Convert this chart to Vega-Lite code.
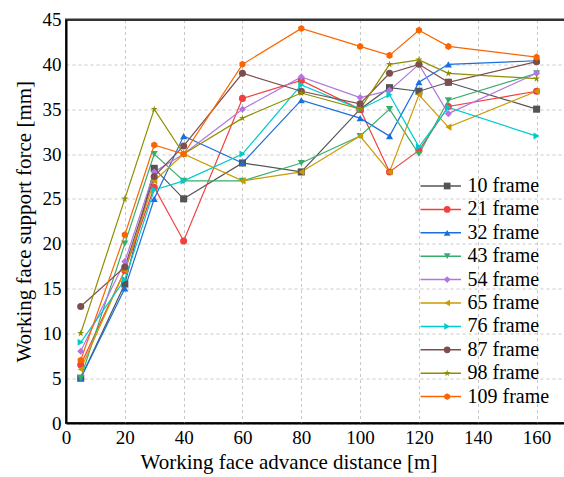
{
  "$schema": "https://vega.github.io/schema/vega-lite/v6.json",
  "width": 500,
  "height": 403.5,
  "autosize": "none",
  "padding": {"left": 66, "top": 19.5, "right": 0, "bottom": 54},
  "config": {
    "font": "Liberation Serif, Times New Roman, serif",
    "view": {"stroke": "#333333", "strokeWidth": 2},
    "axis": {
      "labelFont": "Liberation Serif, Times New Roman, serif",
      "titleFont": "Liberation Serif, Times New Roman, serif",
      "labelFontSize": 19,
      "titleFontSize": 21,
      "titleFontWeight": "normal",
      "labelColor": "#000000",
      "titleColor": "#000000",
      "domainColor": "#000000",
      "domainWidth": 2,
      "ticks": false,
      "gridDash": [3, 3],
      "gridColor": "#c8c8c8",
      "gridWidth": 1
    },
    "legend": {"padding": 0}
  },
  "data": {
    "values": [
      {"frame": "10 frame", "k": 1, "x": 5, "y": 5},
      {"frame": "10 frame", "k": 1, "x": 20, "y": 15.5},
      {"frame": "10 frame", "k": 1, "x": 30, "y": 28.4},
      {"frame": "10 frame", "k": 1, "x": 40, "y": 25},
      {"frame": "10 frame", "k": 1, "x": 60, "y": 29},
      {"frame": "10 frame", "k": 1, "x": 80, "y": 28},
      {"frame": "10 frame", "k": 1, "x": 100, "y": 35},
      {"frame": "10 frame", "k": 1, "x": 110, "y": 37.4},
      {"frame": "10 frame", "k": 1, "x": 120, "y": 37},
      {"frame": "10 frame", "k": 1, "x": 130, "y": 38},
      {"frame": "10 frame", "k": 1, "x": 160, "y": 35},
      {"frame": "21 frame", "k": 2, "x": 5, "y": 6.5},
      {"frame": "21 frame", "k": 2, "x": 20, "y": 17},
      {"frame": "21 frame", "k": 2, "x": 30, "y": 26.3},
      {"frame": "21 frame", "k": 2, "x": 40, "y": 20.3},
      {"frame": "21 frame", "k": 2, "x": 60, "y": 36.2},
      {"frame": "21 frame", "k": 2, "x": 80, "y": 38.2},
      {"frame": "21 frame", "k": 2, "x": 100, "y": 35},
      {"frame": "21 frame", "k": 2, "x": 110, "y": 28},
      {"frame": "21 frame", "k": 2, "x": 120, "y": 30.4},
      {"frame": "21 frame", "k": 2, "x": 130, "y": 35.3},
      {"frame": "21 frame", "k": 2, "x": 160, "y": 37},
      {"frame": "32 frame", "k": 3, "x": 5, "y": 5},
      {"frame": "32 frame", "k": 3, "x": 20, "y": 15},
      {"frame": "32 frame", "k": 3, "x": 30, "y": 25},
      {"frame": "32 frame", "k": 3, "x": 40, "y": 32},
      {"frame": "32 frame", "k": 3, "x": 60, "y": 29},
      {"frame": "32 frame", "k": 3, "x": 80, "y": 36},
      {"frame": "32 frame", "k": 3, "x": 100, "y": 34},
      {"frame": "32 frame", "k": 3, "x": 110, "y": 32},
      {"frame": "32 frame", "k": 3, "x": 120, "y": 38},
      {"frame": "32 frame", "k": 3, "x": 130, "y": 40},
      {"frame": "32 frame", "k": 3, "x": 160, "y": 40.4},
      {"frame": "43 frame", "k": 4, "x": 5, "y": 5},
      {"frame": "43 frame", "k": 4, "x": 20, "y": 20},
      {"frame": "43 frame", "k": 4, "x": 30, "y": 30},
      {"frame": "43 frame", "k": 4, "x": 40, "y": 27},
      {"frame": "43 frame", "k": 4, "x": 60, "y": 27},
      {"frame": "43 frame", "k": 4, "x": 80, "y": 29},
      {"frame": "43 frame", "k": 4, "x": 100, "y": 32},
      {"frame": "43 frame", "k": 4, "x": 110, "y": 35},
      {"frame": "43 frame", "k": 4, "x": 120, "y": 30},
      {"frame": "43 frame", "k": 4, "x": 130, "y": 36},
      {"frame": "43 frame", "k": 4, "x": 160, "y": 39},
      {"frame": "54 frame", "k": 5, "x": 5, "y": 8},
      {"frame": "54 frame", "k": 5, "x": 20, "y": 18},
      {"frame": "54 frame", "k": 5, "x": 30, "y": 28},
      {"frame": "54 frame", "k": 5, "x": 40, "y": 30},
      {"frame": "54 frame", "k": 5, "x": 60, "y": 35},
      {"frame": "54 frame", "k": 5, "x": 80, "y": 38.6},
      {"frame": "54 frame", "k": 5, "x": 100, "y": 36.3},
      {"frame": "54 frame", "k": 5, "x": 110, "y": 37.1},
      {"frame": "54 frame", "k": 5, "x": 120, "y": 40},
      {"frame": "54 frame", "k": 5, "x": 130, "y": 34.5},
      {"frame": "54 frame", "k": 5, "x": 160, "y": 39},
      {"frame": "65 frame", "k": 6, "x": 5, "y": 6},
      {"frame": "65 frame", "k": 6, "x": 20, "y": 17},
      {"frame": "65 frame", "k": 6, "x": 30, "y": 27},
      {"frame": "65 frame", "k": 6, "x": 40, "y": 30},
      {"frame": "65 frame", "k": 6, "x": 60, "y": 27},
      {"frame": "65 frame", "k": 6, "x": 80, "y": 28},
      {"frame": "65 frame", "k": 6, "x": 100, "y": 32},
      {"frame": "65 frame", "k": 6, "x": 110, "y": 28},
      {"frame": "65 frame", "k": 6, "x": 120, "y": 36.6},
      {"frame": "65 frame", "k": 6, "x": 130, "y": 33},
      {"frame": "65 frame", "k": 6, "x": 160, "y": 37},
      {"frame": "76 frame", "k": 7, "x": 5, "y": 9},
      {"frame": "76 frame", "k": 7, "x": 20, "y": 16},
      {"frame": "76 frame", "k": 7, "x": 30, "y": 26},
      {"frame": "76 frame", "k": 7, "x": 40, "y": 27},
      {"frame": "76 frame", "k": 7, "x": 60, "y": 30},
      {"frame": "76 frame", "k": 7, "x": 80, "y": 37.7},
      {"frame": "76 frame", "k": 7, "x": 100, "y": 35},
      {"frame": "76 frame", "k": 7, "x": 110, "y": 36.6},
      {"frame": "76 frame", "k": 7, "x": 120, "y": 30.8},
      {"frame": "76 frame", "k": 7, "x": 130, "y": 35.2},
      {"frame": "76 frame", "k": 7, "x": 160, "y": 32},
      {"frame": "87 frame", "k": 8, "x": 5, "y": 13},
      {"frame": "87 frame", "k": 8, "x": 20, "y": 17.4},
      {"frame": "87 frame", "k": 8, "x": 30, "y": 27.5},
      {"frame": "87 frame", "k": 8, "x": 40, "y": 30.9},
      {"frame": "87 frame", "k": 8, "x": 60, "y": 39},
      {"frame": "87 frame", "k": 8, "x": 80, "y": 37},
      {"frame": "87 frame", "k": 8, "x": 100, "y": 35.6},
      {"frame": "87 frame", "k": 8, "x": 110, "y": 39},
      {"frame": "87 frame", "k": 8, "x": 120, "y": 40},
      {"frame": "87 frame", "k": 8, "x": 130, "y": 38},
      {"frame": "87 frame", "k": 8, "x": 160, "y": 40.3},
      {"frame": "98 frame", "k": 9, "x": 5, "y": 10},
      {"frame": "98 frame", "k": 9, "x": 20, "y": 25},
      {"frame": "98 frame", "k": 9, "x": 30, "y": 35},
      {"frame": "98 frame", "k": 9, "x": 40, "y": 30},
      {"frame": "98 frame", "k": 9, "x": 60, "y": 34},
      {"frame": "98 frame", "k": 9, "x": 80, "y": 36.8},
      {"frame": "98 frame", "k": 9, "x": 100, "y": 35},
      {"frame": "98 frame", "k": 9, "x": 110, "y": 40},
      {"frame": "98 frame", "k": 9, "x": 120, "y": 40.5},
      {"frame": "98 frame", "k": 9, "x": 130, "y": 39},
      {"frame": "98 frame", "k": 9, "x": 160, "y": 38.4},
      {"frame": "109 frame", "k": 10, "x": 5, "y": 7},
      {"frame": "109 frame", "k": 10, "x": 20, "y": 21},
      {"frame": "109 frame", "k": 10, "x": 30, "y": 31},
      {"frame": "109 frame", "k": 10, "x": 40, "y": 30},
      {"frame": "109 frame", "k": 10, "x": 60, "y": 40},
      {"frame": "109 frame", "k": 10, "x": 80, "y": 44},
      {"frame": "109 frame", "k": 10, "x": 100, "y": 42},
      {"frame": "109 frame", "k": 10, "x": 110, "y": 41},
      {"frame": "109 frame", "k": 10, "x": 120, "y": 43.8},
      {"frame": "109 frame", "k": 10, "x": 130, "y": 42},
      {"frame": "109 frame", "k": 10, "x": 160, "y": 40.8}
    ]
  },
  "encoding": {
    "x": {
      "field": "x", "type": "quantitative",
      "scale": {"domain": [0, 170], "nice": false, "zero": true},
      "axis": {"values": [0, 20, 40, 60, 80, 100, 120, 140, 160], "title": "Working face advance distance [m]", "labelPadding": 5, "titlePadding": 4, "labelFlush": false, "titleX": 222.5}
    },
    "y": {
      "field": "y", "type": "quantitative",
      "scale": {"domain": [0, 45], "nice": false},
      "axis": {
        "values": [0, 5, 10, 15, 20, 25, 30, 35, 40, 45],
        "title": "Working face support force [mm]", "labelPadding": 5, "titlePadding": 8,
        "gridColor": {"condition": {"test": "datum.value == 45", "value": "#333333"}, "value": "#c8c8c8"},
        "gridWidth": {"condition": {"test": "datum.value == 45", "value": 2}, "value": 1},
        "gridDash": {"condition": {"test": "datum.value == 45", "value": []}, "value": [3, 3]}
      }
    }
  },
  "layer": [
    {
      "mark": {"type": "line", "strokeWidth": 1.2},
      "encoding": {
        "stroke": {
          "field": "frame", "type": "nominal",
          "scale": {
            "domain": ["10 frame", "21 frame", "32 frame", "43 frame", "54 frame", "65 frame", "76 frame", "87 frame", "98 frame", "109 frame"],
            "range": ["#545454", "#f0403f", "#1a6fdf", "#37ad6b", "#b177de", "#cc9900", "#00cbcc", "#7d4e4e", "#8e8e00", "#fb6501"]
          },
          "legend": {
            "title": null, "orient": "none", "legendX": 364.75, "legendY": 156.5,
            "symbolType": "M-2.25,0H2.25", "symbolSize": 324, "symbolStrokeWidth": 1.5,
            "labelFont": "Liberation Serif, Times New Roman, serif", "labelFontSize": 20, "labelColor": "#000000",
            "labelOffset": 16.75, "rowPadding": 3.4, "labelLimit": 300
          }
        }
      }
    },
    {
      "mark": {"type": "point", "filled": true, "opacity": 1, "size": 50},
      "encoding": {
        "fill": {
          "field": "frame", "type": "nominal",
          "sort": {"field": "k", "op": "min"},
          "scale": {"range": ["#545454", "#f0403f", "#1a6fdf", "#37ad6b", "#b177de", "#cc9900", "#00cbcc", "#7d4e4e", "#8e8e00", "#fb6501"]},
          "legend": {
            "title": null, "orient": "none", "legendX": 371.15, "legendY": 156.5,
            "symbolSize": 45, "symbolStrokeWidth": 0, "symbolOpacity": 1,
            "labelFont": "Liberation Serif, Times New Roman, serif", "labelFontSize": 20, "labelExpr": "''",
            "labelOffset": 16.75, "rowPadding": 3.4, "labelLimit": 300
          }
        },
        "shape": {
          "field": "frame", "type": "nominal",
          "sort": {"field": "k", "op": "min"},
          "scale": {"range": ["square", "circle", "triangle-up", "triangle-down", "diamond", "triangle-left", "triangle-right", "circle", "M0,-1.1L0.2,-0.35L1,-0.35L0.35,0.12L0.6,0.9L0,0.42L-0.6,0.9L-0.35,0.12L-1,-0.35L-0.2,-0.35Z", "M0,-1L0.866,-0.5L0.866,0.5L0,1L-0.866,0.5L-0.866,-0.5Z"]},
          "legend": {
            "title": null, "orient": "none", "legendX": 371.15, "legendY": 156.5,
            "symbolSize": 45, "symbolStrokeWidth": 0, "symbolOpacity": 1,
            "labelFont": "Liberation Serif, Times New Roman, serif", "labelFontSize": 20, "labelExpr": "''",
            "labelOffset": 16.75, "rowPadding": 3.4, "labelLimit": 300
          }
        }
      }
    }
  ]
}
